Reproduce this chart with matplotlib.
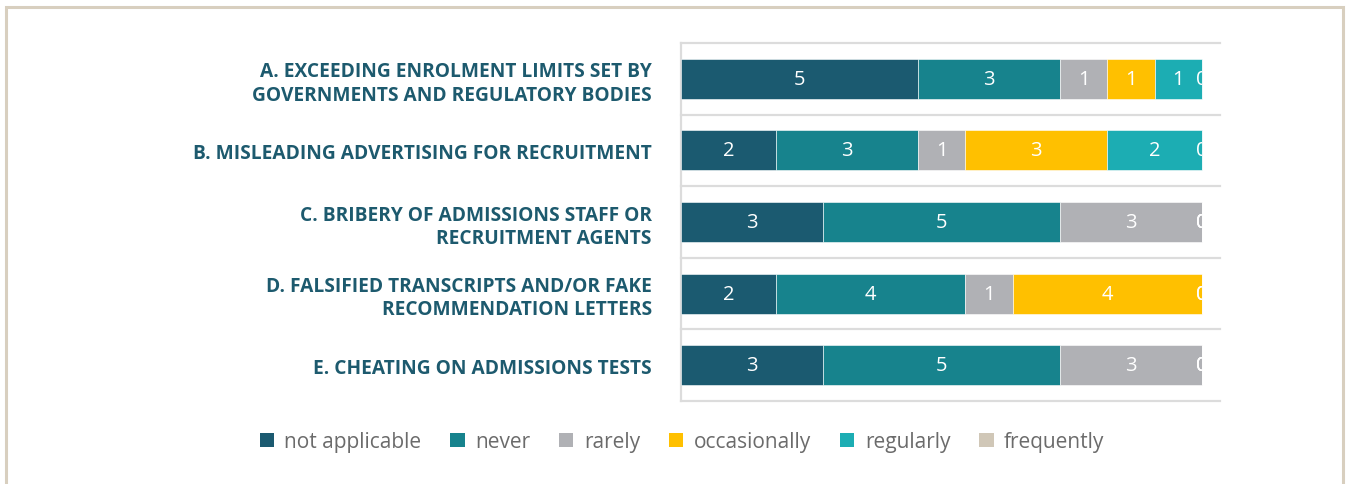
import matplotlib
matplotlib.use("Agg")
import matplotlib.pyplot as plt
from matplotlib.patches import Patch, Rectangle
from matplotlib.transforms import Bbox, TransformedBbox

categories = [
    "A. EXCEEDING ENROLMENT LIMITS SET BY\nGOVERNMENTS AND REGULATORY BODIES",
    "B. MISLEADING ADVERTISING FOR RECRUITMENT",
    "C. BRIBERY OF ADMISSIONS STAFF OR\nRECRUITMENT AGENTS",
    "D. FALSIFIED TRANSCRIPTS AND/OR FAKE\nRECOMMENDATION LETTERS",
    "E. CHEATING ON ADMISSIONS TESTS",
]
series_names = ["not applicable", "never", "rarely", "occasionally", "regularly", "frequently"]
not_applicable = [5, 2, 3, 2, 3]
never = [3, 3, 5, 4, 5]
rarely = [1, 1, 3, 1, 3]
occasionally = [1, 3, 0, 4, 0]
regularly = [1, 2, 0, 0, 0]
frequently = [0, 0, 0, 0, 0]
series_values = [not_applicable, never, rarely, occasionally, regularly, frequently]
colors = ["#1b5a70", "#17838d", "#b0b1b5", "#ffc000", "#1cadb3", "#d0c7b7"]

W, H = 1348, 485
fig = plt.figure(figsize=(W / 100, H / 100), dpi=100)

# frame border
fig.add_artist(Rectangle((6 / W, -0.05), (1343 - 6) / W, 1.05 - 8 / H,
                         transform=fig.transFigure, fill=False,
                         edgecolor="#d8cfbf", linewidth=2.2))

left, right, top, bottom = 681, 1220, 44, 402
ax = fig.add_axes([left / W, 1 - bottom / H, (right - left) / W, (bottom - top) / H])
xmax_total = 11
ax.set_xlim(0, xmax_total * (right - left) / (1202 - left))
ax.set_ylim(len(categories) - 0.5, -0.5)

ypos = list(range(len(categories)))
clipbox = TransformedBbox(Bbox([[0, -1], [xmax_total, len(categories)]]), ax.transData)
cum = [0] * len(categories)
for name, vals, col in zip(series_names, series_values, colors):
    ax.barh(ypos, vals, left=cum, height=0.56, color=col, edgecolor="white",
            linewidth=0.4, zorder=3)
    for i, v in enumerate(vals):
        t = ax.text(cum[i] + v / 2, i, f"{v}", ha="center", va="center",
                    color="white", fontsize=14.5, family="Open Sans", zorder=4)
        t.set_clip_box(clipbox)
        t.set_clip_on(True)
    cum = [c + v for c, v in zip(cum, vals)]

for k in range(len(categories) + 1):
    ax.axhline(k - 0.5, color="#dcdcdc", linewidth=1.6, zorder=1, clip_on=False)

for s in ["top", "right", "bottom"]:
    ax.spines[s].set_visible(False)
ax.spines["left"].set_color("#dcdcdc")
ax.spines["left"].set_linewidth(1.6)
ax.set_xticks([])
ax.set_yticks(ypos)
ax.set_yticklabels(categories, fontsize=13.8, fontweight="bold", color="#1d5a6e",
                   family="Open Sans", linespacing=1.22)
ax.tick_params(axis="y", length=0, pad=21)

handles = [Patch(facecolor=c, edgecolor="none") for c in colors]
fig.legend(handles, series_names, loc="center", bbox_to_anchor=(682 / W, 1 - 443 / H),
           ncol=6, frameon=False, handlelength=0.68, handleheight=0.68,
           handletextpad=0.5, columnspacing=1.4, labelcolor="#6b6b6b",
           prop={"family": "Open Sans", "size": 15})

fig.savefig("out.png", dpi=100, facecolor="white")
